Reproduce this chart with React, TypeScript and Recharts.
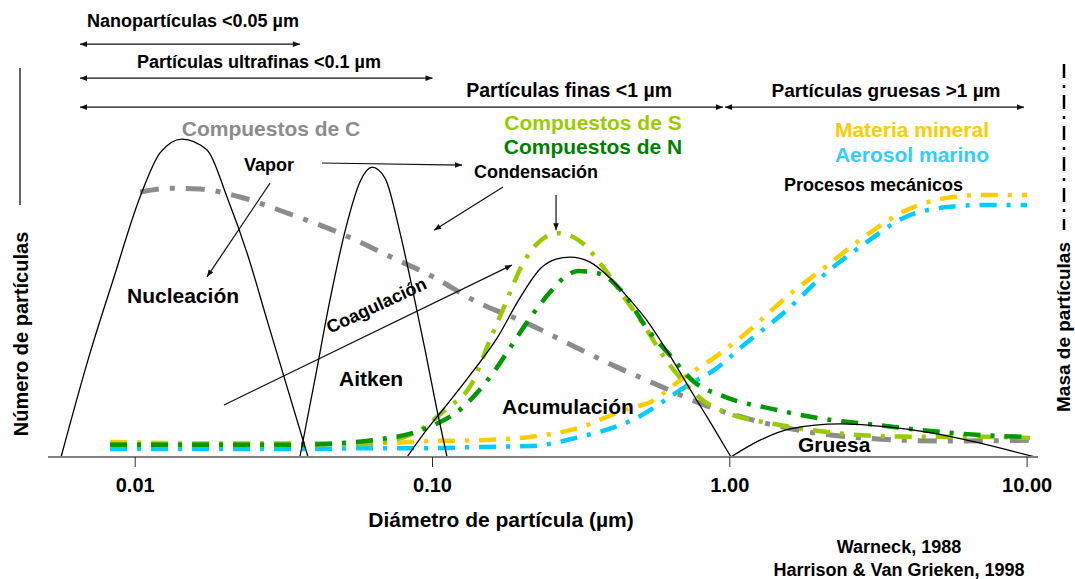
import React from "react";
import { ComposedChart, Line, XAxis, YAxis, ReferenceLine } from "recharts";

const FONT = "'Liberation Sans', Arial, Helvetica, sans-serif";

// diameter in µm (d) and relative value (v)
// number distribution modes (solid black)
const nucleacion = [
  { d: 0.00563, v: 0 }, { d: 0.00705, v: 24.8 }, { d: 0.00842, v: 42.1 },
  { d: 0.01038, v: 61.9 }, { d: 0.01212, v: 72.4 }, { d: 0.01437, v: 75.7 },
  { d: 0.01744, v: 73.1 }, { d: 0.02036, v: 61.9 }, { d: 0.02377, v: 48.6 },
  { d: 0.02776, v: 32.6 }, { d: 0.03241, v: 16.7 }, { d: 0.03813, v: 0 },
];

const aitken = [
  { d: 0.0358, v: 0 }, { d: 0.0403, v: 18.8 }, { d: 0.0452, v: 37.4 },
  { d: 0.0516, v: 55.7 }, { d: 0.057, v: 65.5 }, { d: 0.0626, v: 69.0 },
  { d: 0.0692, v: 66.4 }, { d: 0.0778, v: 53.3 }, { d: 0.0853, v: 40.5 },
  { d: 0.0944, v: 25.5 }, { d: 0.1035, v: 11.2 }, { d: 0.1119, v: 0 },
];

const acumulacion = [
  { d: 0.0821, v: 0 }, { d: 0.0944, v: 6.0 }, { d: 0.1102, v: 11.9 },
  { d: 0.1337, v: 19.5 }, { d: 0.1648, v: 28.3 }, { d: 0.1969, v: 37.9 },
  { d: 0.2317, v: 45.0 }, { d: 0.2603, v: 47.1 }, { d: 0.2901, v: 47.6 },
  { d: 0.3387, v: 46.4 }, { d: 0.3954, v: 42.6 }, { d: 0.4616, v: 37.4 },
  { d: 0.5186, v: 33.1 }, { d: 0.6244, v: 24.5 }, { d: 0.7518, v: 15.0 },
  { d: 0.8713, v: 7.6 }, { d: 1.009, v: 0 },
];

const gruesa = [
  { d: 1.009, v: 0 }, { d: 1.264, v: 4.0 }, { d: 1.594, v: 6.7 },
  { d: 2.348, v: 7.9 }, { d: 3.458, v: 7.1 }, { d: 4.826, v: 5.7 },
  { d: 6.944, v: 3.3 }, { d: 10.63, v: 0 },
];

// mass distributions (dash-dot)
const compuestosC = [
  { d: 0.01038, v: 63.1 }, { d: 0.0131, v: 64.0 }, { d: 0.01652, v: 63.8 },
  { d: 0.02252, v: 61.9 }, { d: 0.03241, v: 58.1 }, { d: 0.04886, v: 53.3 },
  { d: 0.07363, v: 47.4 }, { d: 0.1004, v: 42.9 }, { d: 0.1368, v: 37.4 },
  { d: 0.2145, v: 31.4 }, { d: 0.3015, v: 26.2 }, { d: 0.4175, v: 21.4 },
  { d: 0.5914, v: 16.7 }, { d: 0.8189, v: 12.4 }, { d: 1.225, v: 8.6 },
  { d: 1.832, v: 6.0 }, { d: 3.151, v: 4.3 }, { d: 5.378, v: 3.8 },
  { d: 10.23, v: 4.0 },
];

const compuestosS = [
  { d: 0.00823, v: 3.1 }, { d: 0.01652, v: 3.1 }, { d: 0.0358, v: 3.1 },
  { d: 0.0593, v: 3.1 }, { d: 0.0867, v: 5.7 }, { d: 0.1102, v: 11.2 },
  { d: 0.1358, v: 17.6 }, { d: 0.1561, v: 27.9 }, { d: 0.1781, v: 37.4 },
  { d: 0.1985, v: 45.2 }, { d: 0.2264, v: 51.0 }, { d: 0.2643, v: 53.3 },
  { d: 0.3184, v: 51.0 }, { d: 0.3746, v: 45.2 }, { d: 0.4407, v: 38.1 },
  { d: 0.5186, v: 31.0 }, { d: 0.5914, v: 24.5 }, { d: 0.6961, v: 18.1 },
  { d: 0.8189, v: 13.3 }, { d: 1.009, v: 10.2 }, { d: 1.398, v: 7.9 },
  { d: 2.091, v: 6.0 }, { d: 3.151, v: 5.0 }, { d: 4.715, v: 4.8 },
  { d: 7.217, v: 4.8 }, { d: 10.23, v: 4.5 },
];

const compuestosN = [
  { d: 0.00823, v: 2.9 }, { d: 0.01652, v: 2.9 }, { d: 0.0358, v: 2.9 },
  { d: 0.04886, v: 3.3 }, { d: 0.0626, v: 4.0 }, { d: 0.0915, v: 6.4 },
  { d: 0.1257, v: 11.7 }, { d: 0.1598, v: 20.0 }, { d: 0.1823, v: 26.0 },
  { d: 0.2128, v: 33.1 }, { d: 0.2504, v: 39.5 }, { d: 0.2791, v: 42.9 },
  { d: 0.3086, v: 44.3 }, { d: 0.366, v: 43.6 }, { d: 0.4407, v: 38.8 },
  { d: 0.5308, v: 30.2 }, { d: 0.6244, v: 24.5 }, { d: 0.7518, v: 18.1 },
  { d: 0.9636, v: 14.3 }, { d: 1.398, v: 11.4 }, { d: 2.091, v: 9.0 },
  { d: 3.151, v: 7.6 }, { d: 4.715, v: 6.2 }, { d: 8.045, v: 5.0 },
  { d: 10.23, v: 4.8 },
];

const materiaMineral = [
  { d: 0.00823, v: 3.6 }, { d: 0.01652, v: 3.3 }, { d: 0.0358, v: 3.3 },
  { d: 0.0666, v: 3.3 }, { d: 0.0981, v: 3.8 }, { d: 0.1445, v: 4.0 },
  { d: 0.2145, v: 4.8 }, { d: 0.3015, v: 6.7 }, { d: 0.4511, v: 11.4 },
  { d: 0.5474, v: 13.3 }, { d: 0.6961, v: 18.8 }, { d: 0.8848, v: 23.6 },
  { d: 1.125, v: 29.3 }, { d: 1.594, v: 38.8 }, { d: 2.091, v: 45.2 },
  { d: 2.828, v: 52.4 }, { d: 3.885, v: 58.6 }, { d: 5.378, v: 61.7 },
  { d: 7.217, v: 62.4 }, { d: 9.99, v: 62.4 },
];

const aerosolMarino = [
  { d: 0.00823, v: 1.9 }, { d: 0.01652, v: 1.9 }, { d: 0.0358, v: 1.9 },
  { d: 0.0666, v: 2.1 }, { d: 0.0981, v: 2.1 }, { d: 0.1445, v: 2.4 },
  { d: 0.2145, v: 2.6 }, { d: 0.3015, v: 4.5 }, { d: 0.4762, v: 9.0 },
  { d: 0.7346, v: 17.4 }, { d: 0.8848, v: 20.7 }, { d: 1.125, v: 26.9 },
  { d: 1.557, v: 35.0 }, { d: 2.091, v: 43.6 }, { d: 2.828, v: 50.7 },
  { d: 3.885, v: 57.1 }, { d: 5.378, v: 59.5 }, { d: 7.217, v: 60.0 },
  { d: 9.99, v: 60.0 },
];

const xTicks = [0.01, 0.1, 1, 10];
const xTickLabels = ["0.01", "0.10", "1.00", "10.00"];

// size range arrows along the top (double headed)
const rangos = [
  { from: 0.00652, to: 0.0358, y: 98.3 },
  { from: 0.00652, to: 0.1, y: 90.2 },
  { from: 0.00652, to: 0.949, y: 83.3 },
  { from: 0.963, to: 9.76, y: 83.3 },
];

// process arrows: [d, v] start -> end
const flechas = [
  { from: [0.02841, 65.2], to: [0.01744, 42.9] },
  { from: [0.04249, 70.0], to: [0.1257, 69.5] },
  { from: [0.1726, 64.3], to: [0.1012, 54.0] },
  { from: [0.2603, 62.4], to: [0.2603, 54.0] },
  { from: [0.01989, 12.4], to: [0.1851, 45.7] },
];

const DASH = "17 10 4 10";

const head = (xa: number, ya: number, xb: number, yb: number) => {
  const a = Math.atan2(yb - ya, xb - xa);
  const L = 7;
  const W = 2.8;
  const bx = xb - L * Math.cos(a);
  const by = yb - L * Math.sin(a);
  const px = -Math.sin(a) * W;
  const py = Math.cos(a) * W;
  return `${xb},${yb} ${bx + px},${by + py} ${bx - px},${by - py}`;
};

const arrowShape = (both: boolean) => (p: any) => {
  const { x1, y1, x2, y2 } = p;
  return (
    <g>
      <line x1={x1} y1={y1} x2={x2} y2={y2} stroke="#111" strokeWidth={1.2} />
      <polygon points={head(x1, y1, x2, y2)} fill="#111" />
      {both && <polygon points={head(x2, y2, x1, y1)} fill="#111" />}
    </g>
  );
};

const T = ({ x, y, children, size = 18, fill = "#000", anchor = "start", rotate }: any) => (
  <text
    x={x}
    y={y}
    fontSize={size}
    fill={fill}
    textAnchor={anchor}
    fontWeight={700}
    fontFamily={FONT}
    transform={rotate !== undefined ? `rotate(${rotate} ${x} ${y})` : undefined}
  >
    {children}
  </text>
);

const App = () => {
  return (
    <div style={{ position: "absolute", left: 0, top: 0, width: 1075, height: 579, background: "#fff" }}>
      <ComposedChart width={1075} height={579} margin={{ top: 37, right: 37, left: 48, bottom: 0 }}>
        <XAxis
          dataKey="d"
          type="number"
          scale="log"
          domain={[0.005089, 10.88]}
          allowDataOverflow
          ticks={xTicks}
          tickFormatter={(v: number) => xTickLabels[xTicks.indexOf(v)] ?? String(v)}
          height={122}
          tickSize={10}
          tickMargin={11}
          axisLine={{ stroke: "#7f7f7f", strokeWidth: 2 }}
          tickLine={{ stroke: "#333", strokeWidth: 1 }}
          tick={{ fill: "#000", fontSize: 20, fontWeight: 700, fontFamily: FONT }}
        />
        <YAxis
          yAxisId="left"
          domain={[0, 100]}
          width={0}
          tick={false}
          tickLine={false}
          axisLine={{ stroke: "#7f7f7f", strokeWidth: 2 }}
        />
        <YAxis
          yAxisId="right"
          orientation="right"
          domain={[0, 100]}
          width={0}
          tick={false}
          tickLine={false}
          axisLine={{ stroke: "#7f7f7f", strokeWidth: 2 }}
        />

        <Line yAxisId="right" data={aerosolMarino} dataKey="v" type="monotone" stroke="#00ccff" strokeWidth={4.5} strokeDasharray={DASH} dot={false} isAnimationActive={false} />
        <Line yAxisId="right" data={materiaMineral} dataKey="v" type="monotone" stroke="#ffcc00" strokeWidth={4.5} strokeDasharray={DASH} dot={false} isAnimationActive={false} />
        <Line yAxisId="right" data={compuestosC} dataKey="v" type="monotone" stroke="#8c8c8c" strokeWidth={5} strokeDasharray="19 11 5 11" dot={false} isAnimationActive={false} />
        <Line yAxisId="right" data={compuestosS} dataKey="v" type="monotone" stroke="#99cc00" strokeWidth={4.5} strokeDasharray={DASH} dot={false} isAnimationActive={false} />
        <Line yAxisId="right" data={compuestosN} dataKey="v" type="monotone" stroke="#009900" strokeWidth={4.5} strokeDasharray={DASH} dot={false} isAnimationActive={false} />

        <Line yAxisId="left" data={nucleacion} dataKey="v" type="monotone" stroke="#000" strokeWidth={1.3} dot={false} isAnimationActive={false} />
        <Line yAxisId="left" data={aitken} dataKey="v" type="monotone" stroke="#000" strokeWidth={1.3} dot={false} isAnimationActive={false} />
        <Line yAxisId="left" data={acumulacion} dataKey="v" type="monotone" stroke="#000" strokeWidth={1.3} dot={false} isAnimationActive={false} />
        <Line yAxisId="left" data={gruesa} dataKey="v" type="monotone" stroke="#000" strokeWidth={1.3} dot={false} isAnimationActive={false} />

        {rangos.map((r, i) => (
          <ReferenceLine
            key={"r" + i}
            yAxisId="left"
            ifOverflow="visible"
            segment={[{ x: r.from, y: r.y }, { x: r.to, y: r.y }]}
            shape={arrowShape(true)}
          />
        ))}
        {flechas.map((f, i) => (
          <ReferenceLine
            key={"f" + i}
            yAxisId="left"
            ifOverflow="visible"
            segment={[{ x: f.from[0], y: f.from[1] }, { x: f.to[0], y: f.to[1] }]}
            shape={arrowShape(false)}
          />
        ))}
      </ComposedChart>

      <svg width={1075} height={579} style={{ position: "absolute", left: 0, top: 0, pointerEvents: "none" }}>
        <T x={193} y={27} anchor="middle">Nanopartículas &lt;0.05 µm</T>
        <T x={259} y={68} anchor="middle">Partículas ultrafinas &lt;0.1 µm</T>
        <T x={672} y={97} anchor="end" size={19.5}>Partículas finas &lt;1 µm</T>
        <T x={886} y={97} anchor="middle" size={19}>Partículas gruesas &gt;1 µm</T>

        <T x={271} y={136} anchor="middle" size={21} fill="#8c8c8c">Compuestos de C</T>
        <T x={593} y={130} anchor="middle" size={21} fill="#99cc00">Compuestos de S</T>
        <T x={593} y={154} anchor="middle" size={21} fill="#008000">Compuestos de N</T>
        <T x={989} y={137} anchor="end" size={21} fill="#ffcc00">Materia mineral</T>
        <T x={989} y={162} anchor="end" size={21} fill="#33ccff">Aerosol marino</T>

        <T x={244} y={171}>Vapor</T>
        <T x={474} y={178}>Condensación</T>
        <T x={784} y={191}>Procesos mecánicos</T>
        <T x={127} y={303} size={21}>Nucleación</T>
        <T x={379} y={311} anchor="middle" rotate={-25}>Coagulación</T>
        <T x={339} y={386} size={21}>Aitken</T>
        <T x={502} y={414} size={21}>Acumulación</T>
        <T x={798} y={452} size={21}>Gruesa</T>

        <T x={501} y={527} anchor="middle" size={21}>Diámetro de partícula (µm)</T>
        <T x={899} y={553} anchor="middle">Warneck, 1988</T>
        <T x={899} y={576} anchor="middle">Harrison &amp; Van Grieken, 1998</T>

        <T x={28} y={334} anchor="middle" size={20} rotate={-90}>Número de partículas</T>
        <line x1={20} y1={68} x2={20} y2={205} stroke="#000" strokeWidth={1.2} />
        <T x={1070} y={327} anchor="middle" size={19} rotate={-90}>Masa de partículas</T>
        <line x1={1064} y1={64} x2={1064} y2={230} stroke="#000" strokeWidth={2.5} strokeDasharray="14 7 3 7" />
      </svg>
    </div>
  );
};

export default App;
